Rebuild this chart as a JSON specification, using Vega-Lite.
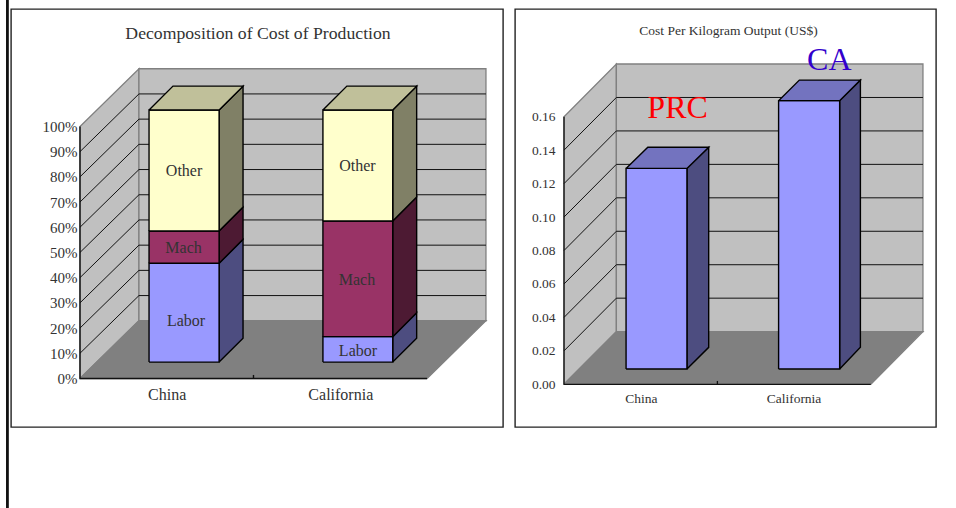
{"$schema":"https://vega.github.io/schema/vega-lite/v6.json","padding":{"left":1,"top":-7,"right":0,"bottom":0},"spacing":10,"background":"white","config":{"font":"Liberation Serif","view":{"stroke":"#222","strokeWidth":1.4},"axis":{"labelFont":"Liberation Serif","labelColor":"#333","tickColor":"#000","grid":false,"domain":false,"title":null,"zindex":1},"title":{"font":"Liberation Serif","fontWeight":"normal","color":"#333"}},"hconcat":[{"width":492,"height":418,"title":{"text":"Decomposition of Cost of Production","fontSize":17.7,"anchor":"middle","offset":-48,"dx":1},"encoding":{"x":{"field":"x","type":"quantitative","scale":{"domain":[-27.38,167.86],"nice":false,"zero":false},"axis":{"values":[34.4,103.3],"labelExpr":"datum.value == 34.4 ? 'China' : 'California'","ticks":false,"labelFontSize":16,"labelPadding":8,"offset":-48.5}},"y":{"field":"y","type":"quantitative","scale":{"domain":[-19.25,146.6],"nice":false,"zero":false},"axis":{"values":[0,10,20,30,40,50,60,70,80,90,100],"labelExpr":"datum.value + '%'","tickSize":-3,"labelFontSize":15,"labelPadding":6,"offset":-69}}},"layer":[{"data":{"values":[{"face":"left wall","part":"Wall","i":0,"x":0,"y":0},{"face":"left wall","part":"Wall","i":1,"x":23.4,"y":22.9},{"face":"left wall","part":"Wall","i":2,"x":23.4,"y":122.9},{"face":"left wall","part":"Wall","i":3,"x":0,"y":100},{"face":"left wall","part":"Wall","i":4,"x":0,"y":0},{"face":"back wall","part":"Wall","i":0,"x":23.4,"y":22.9},{"face":"back wall","part":"Wall","i":1,"x":161.1,"y":22.9},{"face":"back wall","part":"Wall","i":2,"x":161.1,"y":122.9},{"face":"back wall","part":"Wall","i":3,"x":23.4,"y":122.9},{"face":"back wall","part":"Wall","i":4,"x":23.4,"y":22.9},{"face":"floor","part":"Floor","i":0,"x":0,"y":0},{"face":"floor","part":"Floor","i":1,"x":137.7,"y":0},{"face":"floor","part":"Floor","i":2,"x":161.1,"y":22.9},{"face":"floor","part":"Floor","i":3,"x":23.4,"y":22.9},{"face":"floor","part":"Floor","i":4,"x":0,"y":0}]},"mark":{"type":"line","stroke":"#808080","strokeWidth":1.3},"encoding":{"detail":{"field":"face"},"order":{"field":"i"},"fill":{"field":"part","type":"nominal","legend":null,"scale":{"domain":["Wall","Floor"],"range":["#C0C0C0","#808080"]}}}},{"data":{"values":[{"g":10,"i":0,"x":0,"y":10},{"g":10,"i":1,"x":23.4,"y":32.9},{"g":10,"i":2,"x":161.1,"y":32.9},{"g":20,"i":0,"x":0,"y":20},{"g":20,"i":1,"x":23.4,"y":42.9},{"g":20,"i":2,"x":161.1,"y":42.9},{"g":30,"i":0,"x":0,"y":30},{"g":30,"i":1,"x":23.4,"y":52.9},{"g":30,"i":2,"x":161.1,"y":52.9},{"g":40,"i":0,"x":0,"y":40},{"g":40,"i":1,"x":23.4,"y":62.9},{"g":40,"i":2,"x":161.1,"y":62.9},{"g":50,"i":0,"x":0,"y":50},{"g":50,"i":1,"x":23.4,"y":72.9},{"g":50,"i":2,"x":161.1,"y":72.9},{"g":60,"i":0,"x":0,"y":60},{"g":60,"i":1,"x":23.4,"y":82.9},{"g":60,"i":2,"x":161.1,"y":82.9},{"g":70,"i":0,"x":0,"y":70},{"g":70,"i":1,"x":23.4,"y":92.9},{"g":70,"i":2,"x":161.1,"y":92.9},{"g":80,"i":0,"x":0,"y":80},{"g":80,"i":1,"x":23.4,"y":102.9},{"g":80,"i":2,"x":161.1,"y":102.9},{"g":90,"i":0,"x":0,"y":90},{"g":90,"i":1,"x":23.4,"y":112.9},{"g":90,"i":2,"x":161.1,"y":112.9}]},"mark":{"type":"line","stroke":"#111","strokeWidth":1},"encoding":{"detail":{"field":"g"},"order":{"field":"i"}}},{"data":{"values":[{"g":"y axis","i":0,"x":0,"y":100},{"g":"y axis","i":1,"x":0,"y":0},{"g":"y axis","i":2,"x":137.7,"y":0},{"g":"tick","i":0,"x":68.85,"y":0},{"g":"tick","i":1,"x":68.85,"y":1.4}]},"mark":{"type":"line","stroke":"#111","strokeWidth":1.4},"encoding":{"detail":{"field":"g"},"order":{"field":"i"}}},{"data":{"values":[{"i":0,"x":-28.8,"y":150.2},{"i":1,"x":-28.8,"y":-51.4}]},"mark":{"type":"line","stroke":"#111","strokeWidth":2.8},"encoding":{"order":{"field":"i"}}},{"data":{"values":[{"face":"China Labor side","part":"Labor side","i":0,"x":55.2,"y":6.5},{"face":"China Labor side","part":"Labor side","i":1,"x":64.7,"y":16},{"face":"China Labor side","part":"Labor side","i":2,"x":64.7,"y":55.2},{"face":"China Labor side","part":"Labor side","i":3,"x":55.2,"y":45.7},{"face":"China Labor side","part":"Labor side","i":4,"x":55.2,"y":6.5},{"face":"China Labor","part":"Labor","i":0,"x":27.4,"y":6.5},{"face":"China Labor","part":"Labor","i":1,"x":55.2,"y":6.5},{"face":"China Labor","part":"Labor","i":2,"x":55.2,"y":45.7},{"face":"China Labor","part":"Labor","i":3,"x":27.4,"y":45.7},{"face":"China Labor","part":"Labor","i":4,"x":27.4,"y":6.5},{"face":"China Mach side","part":"Mach side","i":0,"x":55.2,"y":45.7},{"face":"China Mach side","part":"Mach side","i":1,"x":64.7,"y":55.2},{"face":"China Mach side","part":"Mach side","i":2,"x":64.7,"y":68},{"face":"China Mach side","part":"Mach side","i":3,"x":55.2,"y":58.5},{"face":"China Mach side","part":"Mach side","i":4,"x":55.2,"y":45.7},{"face":"China Mach","part":"Mach","i":0,"x":27.4,"y":45.7},{"face":"China Mach","part":"Mach","i":1,"x":55.2,"y":45.7},{"face":"China Mach","part":"Mach","i":2,"x":55.2,"y":58.5},{"face":"China Mach","part":"Mach","i":3,"x":27.4,"y":58.5},{"face":"China Mach","part":"Mach","i":4,"x":27.4,"y":45.7},{"face":"China Other side","part":"Other side","i":0,"x":55.2,"y":58.5},{"face":"China Other side","part":"Other side","i":1,"x":64.7,"y":68},{"face":"China Other side","part":"Other side","i":2,"x":64.7,"y":116},{"face":"China Other side","part":"Other side","i":3,"x":55.2,"y":106.5},{"face":"China Other side","part":"Other side","i":4,"x":55.2,"y":58.5},{"face":"China Other","part":"Other","i":0,"x":27.4,"y":58.5},{"face":"China Other","part":"Other","i":1,"x":55.2,"y":58.5},{"face":"China Other","part":"Other","i":2,"x":55.2,"y":106.5},{"face":"China Other","part":"Other","i":3,"x":27.4,"y":106.5},{"face":"China Other","part":"Other","i":4,"x":27.4,"y":58.5},{"face":"China top","part":"Other top","i":0,"x":27.4,"y":106.5},{"face":"China top","part":"Other top","i":1,"x":36.9,"y":116},{"face":"China top","part":"Other top","i":2,"x":64.7,"y":116},{"face":"China top","part":"Other top","i":3,"x":55.2,"y":106.5},{"face":"China top","part":"Other top","i":4,"x":27.4,"y":106.5},{"face":"California Labor side","part":"Labor side","i":0,"x":124.1,"y":6.5},{"face":"California Labor side","part":"Labor side","i":1,"x":133.6,"y":16},{"face":"California Labor side","part":"Labor side","i":2,"x":133.6,"y":26.1},{"face":"California Labor side","part":"Labor side","i":3,"x":124.1,"y":16.6},{"face":"California Labor side","part":"Labor side","i":4,"x":124.1,"y":6.5},{"face":"California Labor","part":"Labor","i":0,"x":96.4,"y":6.5},{"face":"California Labor","part":"Labor","i":1,"x":124.1,"y":6.5},{"face":"California Labor","part":"Labor","i":2,"x":124.1,"y":16.6},{"face":"California Labor","part":"Labor","i":3,"x":96.4,"y":16.6},{"face":"California Labor","part":"Labor","i":4,"x":96.4,"y":6.5},{"face":"California Mach side","part":"Mach side","i":0,"x":124.1,"y":16.6},{"face":"California Mach side","part":"Mach side","i":1,"x":133.6,"y":26.1},{"face":"California Mach side","part":"Mach side","i":2,"x":133.6,"y":72},{"face":"California Mach side","part":"Mach side","i":3,"x":124.1,"y":62.5},{"face":"California Mach side","part":"Mach side","i":4,"x":124.1,"y":16.6},{"face":"California Mach","part":"Mach","i":0,"x":96.4,"y":16.6},{"face":"California Mach","part":"Mach","i":1,"x":124.1,"y":16.6},{"face":"California Mach","part":"Mach","i":2,"x":124.1,"y":62.5},{"face":"California Mach","part":"Mach","i":3,"x":96.4,"y":62.5},{"face":"California Mach","part":"Mach","i":4,"x":96.4,"y":16.6},{"face":"California Other side","part":"Other side","i":0,"x":124.1,"y":62.5},{"face":"California Other side","part":"Other side","i":1,"x":133.6,"y":72},{"face":"California Other side","part":"Other side","i":2,"x":133.6,"y":116},{"face":"California Other side","part":"Other side","i":3,"x":124.1,"y":106.5},{"face":"California Other side","part":"Other side","i":4,"x":124.1,"y":62.5},{"face":"California Other","part":"Other","i":0,"x":96.4,"y":62.5},{"face":"California Other","part":"Other","i":1,"x":124.1,"y":62.5},{"face":"California Other","part":"Other","i":2,"x":124.1,"y":106.5},{"face":"California Other","part":"Other","i":3,"x":96.4,"y":106.5},{"face":"California Other","part":"Other","i":4,"x":96.4,"y":62.5},{"face":"California top","part":"Other top","i":0,"x":96.4,"y":106.5},{"face":"California top","part":"Other top","i":1,"x":105.9,"y":116},{"face":"California top","part":"Other top","i":2,"x":133.6,"y":116},{"face":"California top","part":"Other top","i":3,"x":124.1,"y":106.5},{"face":"California top","part":"Other top","i":4,"x":96.4,"y":106.5}]},"mark":{"type":"line","stroke":"#000","strokeWidth":1.4},"encoding":{"detail":{"field":"face"},"order":{"field":"i"},"fill":{"field":"part","type":"nominal","legend":null,"scale":{"domain":["Labor","Labor side","Mach","Mach side","Other","Other side","Other top"],"range":["#9999FF","#4D4D80","#993366","#4D1A33","#FFFFCC","#808066","#C0C09A"]}}}},{"data":{"values":[{"label":"Other","x":41.3,"y":82.3},{"label":"Mach","x":41.1,"y":51.8},{"label":"Labor","x":42.1,"y":22.8},{"label":"Other","x":110.1,"y":84.3},{"label":"Mach","x":109.9,"y":39.1},{"label":"Labor","x":110.3,"y":10.9}]},"mark":{"type":"text","fontSize":16,"color":"#333","baseline":"middle","align":"center"},"encoding":{"text":{"field":"label"}}}],"resolve":{"scale":{"fill":"independent"}}},{"width":421,"height":418,"title":{"text":"Cost Per Kilogram Output (US$)","fontSize":13.5,"anchor":"middle","offset":-28,"dx":3},"encoding":{"x":{"field":"x","type":"quantitative","scale":{"domain":[-2.93,22.24],"nice":false,"zero":false},"axis":{"values":[4.6,13.72],"labelExpr":"datum.value == 4.6 ? 'China' : 'California'","ticks":false,"labelFontSize":13.5,"labelPadding":7,"offset":-42.7}},"y":{"field":"y","type":"quantitative","scale":{"domain":[-0.02553,0.2244],"nice":false,"zero":false},"axis":{"values":[0,0.02,0.04,0.06,0.08,0.1,0.12,0.14,0.16],"format":".2f","tickSize":-3,"labelFontSize":13.5,"labelPadding":12,"offset":-49}}},"layer":[{"data":{"values":[{"face":"left wall","part":"Wall","i":0,"x":0,"y":0},{"face":"left wall","part":"Wall","i":1,"x":3.13,"y":0.0315},{"face":"left wall","part":"Wall","i":2,"x":3.13,"y":0.1915},{"face":"left wall","part":"Wall","i":3,"x":0,"y":0.16},{"face":"left wall","part":"Wall","i":4,"x":0,"y":0},{"face":"back wall","part":"Wall","i":0,"x":3.13,"y":0.0315},{"face":"back wall","part":"Wall","i":1,"x":21.46,"y":0.0315},{"face":"back wall","part":"Wall","i":2,"x":21.46,"y":0.1915},{"face":"back wall","part":"Wall","i":3,"x":3.13,"y":0.1915},{"face":"back wall","part":"Wall","i":4,"x":3.13,"y":0.0315},{"face":"floor","part":"Floor","i":0,"x":0,"y":0},{"face":"floor","part":"Floor","i":1,"x":18.34,"y":0},{"face":"floor","part":"Floor","i":2,"x":21.46,"y":0.0315},{"face":"floor","part":"Floor","i":3,"x":3.13,"y":0.0315},{"face":"floor","part":"Floor","i":4,"x":0,"y":0}]},"mark":{"type":"line","stroke":"#808080","strokeWidth":1.3},"encoding":{"detail":{"field":"face"},"order":{"field":"i"},"fill":{"field":"part","type":"nominal","legend":null,"scale":{"domain":["Wall","Floor"],"range":["#C0C0C0","#808080"]}}}},{"data":{"values":[{"g":2,"i":0,"x":0,"y":0.02},{"g":2,"i":1,"x":3.13,"y":0.0515},{"g":2,"i":2,"x":21.46,"y":0.0515},{"g":4,"i":0,"x":0,"y":0.04},{"g":4,"i":1,"x":3.13,"y":0.0715},{"g":4,"i":2,"x":21.46,"y":0.0715},{"g":6,"i":0,"x":0,"y":0.06},{"g":6,"i":1,"x":3.13,"y":0.0915},{"g":6,"i":2,"x":21.46,"y":0.0915},{"g":8,"i":0,"x":0,"y":0.08},{"g":8,"i":1,"x":3.13,"y":0.1115},{"g":8,"i":2,"x":21.46,"y":0.1115},{"g":10,"i":0,"x":0,"y":0.1},{"g":10,"i":1,"x":3.13,"y":0.1315},{"g":10,"i":2,"x":21.46,"y":0.1315},{"g":12,"i":0,"x":0,"y":0.12},{"g":12,"i":1,"x":3.13,"y":0.1515},{"g":12,"i":2,"x":21.46,"y":0.1515},{"g":14,"i":0,"x":0,"y":0.14},{"g":14,"i":1,"x":3.13,"y":0.1715},{"g":14,"i":2,"x":21.46,"y":0.1715}]},"mark":{"type":"line","stroke":"#111","strokeWidth":1},"encoding":{"detail":{"field":"g"},"order":{"field":"i"}}},{"data":{"values":[{"g":"y axis","i":0,"x":0,"y":0.16},{"g":"y axis","i":1,"x":0,"y":0},{"g":"y axis","i":2,"x":18.34,"y":0},{"g":"tick","i":0,"x":9.17,"y":0},{"g":"tick","i":1,"x":9.17,"y":0.002}]},"mark":{"type":"line","stroke":"#111","strokeWidth":1.3},"encoding":{"detail":{"field":"g"},"order":{"field":"i"}}},{"data":{"values":[{"face":"China side","part":"Labor side","i":0,"x":7.35,"y":0.00915},{"face":"China side","part":"Labor side","i":1,"x":8.65,"y":0.0221},{"face":"China side","part":"Labor side","i":2,"x":8.65,"y":0.1417},{"face":"China side","part":"Labor side","i":3,"x":7.35,"y":0.1291},{"face":"China side","part":"Labor side","i":4,"x":7.35,"y":0.00915},{"face":"China front","part":"Labor","i":0,"x":3.71,"y":0.00915},{"face":"China front","part":"Labor","i":1,"x":7.35,"y":0.00915},{"face":"China front","part":"Labor","i":2,"x":7.35,"y":0.1291},{"face":"China front","part":"Labor","i":3,"x":3.71,"y":0.1291},{"face":"China front","part":"Labor","i":4,"x":3.71,"y":0.00915},{"face":"China top","part":"Labor top","i":0,"x":3.71,"y":0.1291},{"face":"China top","part":"Labor top","i":1,"x":5.01,"y":0.1417},{"face":"China top","part":"Labor top","i":2,"x":8.65,"y":0.1417},{"face":"China top","part":"Labor top","i":3,"x":7.35,"y":0.1291},{"face":"China top","part":"Labor top","i":4,"x":3.71,"y":0.1291},{"face":"California side","part":"Labor side","i":0,"x":16.48,"y":0.00915},{"face":"California side","part":"Labor side","i":1,"x":17.72,"y":0.0221},{"face":"California side","part":"Labor side","i":2,"x":17.72,"y":0.1819},{"face":"California side","part":"Labor side","i":3,"x":16.48,"y":0.1696},{"face":"California side","part":"Labor side","i":4,"x":16.48,"y":0.00915},{"face":"California front","part":"Labor","i":0,"x":12.83,"y":0.00915},{"face":"California front","part":"Labor","i":1,"x":16.48,"y":0.00915},{"face":"California front","part":"Labor","i":2,"x":16.48,"y":0.1696},{"face":"California front","part":"Labor","i":3,"x":12.83,"y":0.1696},{"face":"California front","part":"Labor","i":4,"x":12.83,"y":0.00915},{"face":"California top","part":"Labor top","i":0,"x":12.83,"y":0.1696},{"face":"California top","part":"Labor top","i":1,"x":14.07,"y":0.1819},{"face":"California top","part":"Labor top","i":2,"x":17.72,"y":0.1819},{"face":"California top","part":"Labor top","i":3,"x":16.48,"y":0.1696},{"face":"California top","part":"Labor top","i":4,"x":12.83,"y":0.1696}]},"mark":{"type":"line","stroke":"#000","strokeWidth":1.4},"encoding":{"detail":{"field":"face"},"order":{"field":"i"},"fill":{"field":"part","type":"nominal","legend":null,"scale":{"domain":["Labor","Labor side","Labor top"],"range":["#9999FF","#4D4D80","#7373BF"]}}}},{"data":{"values":[{"label":"PRC","x":6.79,"y":0.1655},{"label":"CA","x":15.86,"y":0.1942}]},"mark":{"type":"text","fontSize":32,"baseline":"middle","align":"center"},"encoding":{"text":{"field":"label"},"color":{"field":"label","type":"nominal","legend":null,"scale":{"domain":["PRC","CA"],"range":["#FF0000","#3300CC"]}}}}],"resolve":{"scale":{"fill":"independent"}}}]}
